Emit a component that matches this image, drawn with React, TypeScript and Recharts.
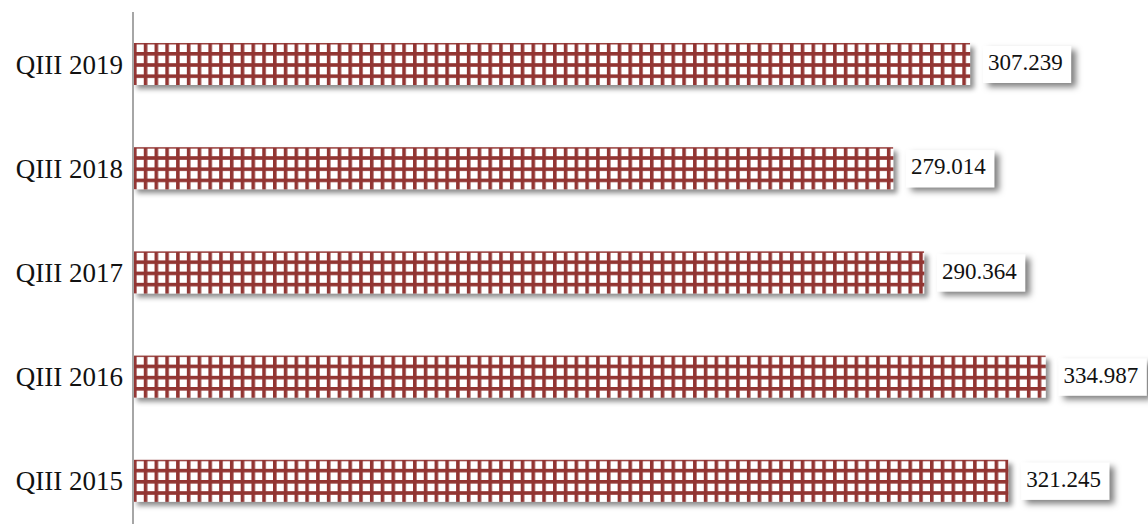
import { BarChart, Bar, XAxis, YAxis, LabelList } from "recharts";

const quarters = ["QIII 2019", "QIII 2018", "QIII 2017", "QIII 2016", "QIII 2015"];
const values = [307.239, 279.014, 290.364, 334.987, 321.245];

const RED = "#923533";
const FONT = "'Liberation Serif', 'Times New Roman', serif";

const data = quarters.map((q, i) => ({ quarter: q, value: values[i] }));

function GridBar(props: any) {
  const { x, y, width, height, index } = props;
  const id = `grid-${index}`;
  return (
    <g>
      <defs>
        <pattern
          id={id}
          x={x}
          y={y + 9}
          width={10.77}
          height={11.2}
          patternUnits="userSpaceOnUse"
        >
          <rect width={10.77} height={11.2} fill="#fff" />
          <rect x={0} y={0} width={3.6} height={11.2} fill={RED} />
          <rect x={0} y={0} width={10.77} height={3.6} fill={RED} />
        </pattern>
      </defs>
      <rect
        x={x}
        y={y}
        width={width}
        height={height}
        fill={`url(#${id})`}
        filter="url(#softShadow)"
      />
    </g>
  );
}

function ValueLabel(props: any) {
  const { x, y, width, height, value } = props;
  const bx = x + width + 13;
  const cy = y + height / 2;
  return (
    <g>
      <rect
        x={bx}
        y={cy - 18}
        width={88}
        height={37}
        fill="#fff"
        filter="url(#boxShadow)"
      />
      <text
        x={bx + 5}
        y={cy + 1}
        dominantBaseline="middle"
        fontFamily={FONT}
        fontSize={23}
        fill="#111"
      >
        {Number(value).toFixed(3)}
      </text>
    </g>
  );
}

export default function App() {
  return (
    <div
      style={{
        position: "absolute",
        left: 0,
        top: 0,
        width: 1148,
        height: 524,
        overflow: "hidden",
        background: "#fff",
      }}
    >
      <BarChart
        width={1148}
        height={545}
        data={data}
        layout="vertical"
        margin={{ top: 12, right: 7, bottom: 12, left: 0 }}
      >
        <defs>
          <filter id="softShadow" x="-10%" y="-30%" width="130%" height="190%">
            <feDropShadow
              dx={4}
              dy={4}
              stdDeviation={2.8}
              floodColor="#000"
              floodOpacity={0.45}
            />
          </filter>
          <filter id="boxShadow" x="-20%" y="-30%" width="160%" height="190%">
            <feDropShadow
              dx={5}
              dy={4}
              stdDeviation={3}
              floodColor="#000"
              floodOpacity={0.5}
            />
          </filter>
        </defs>
        <XAxis type="number" domain={[0, 370]} hide />
        <YAxis
          type="category"
          dataKey="quarter"
          width={133}
          tickLine={false}
          tickSize={0}
          tickMargin={10}
          axisLine={{ stroke: "#a6a6a6", strokeWidth: 2 }}
          tick={{ fill: "#111", fontSize: 27, fontFamily: FONT }}
        />
        <Bar
          dataKey="value"
          barSize={42}
          shape={<GridBar />}
          isAnimationActive={false}
        >
          <LabelList dataKey="value" content={<ValueLabel />} />
        </Bar>
      </BarChart>
    </div>
  );
}
